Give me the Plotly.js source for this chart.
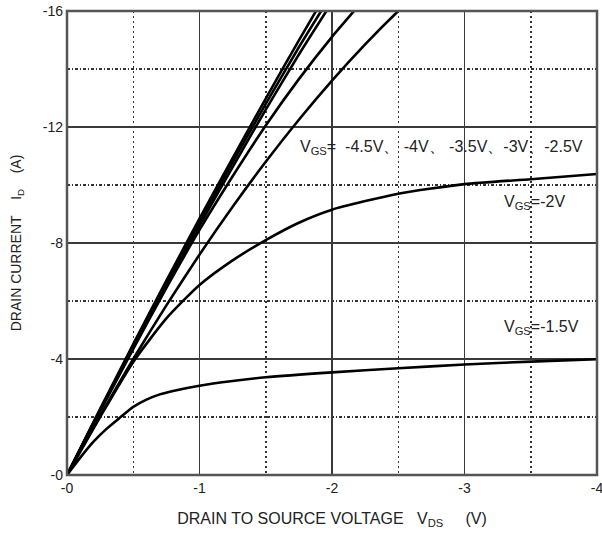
<!DOCTYPE html>
<html>
<head>
<meta charset="utf-8">
<script src="https://cdn.plot.ly/plotly-3.0.1.min.js"></script>
<style>html,body{margin:0;padding:0;background:#fff;overflow:hidden;}#chart{width:602px;height:533px;}</style>
</head>
<body>
<div id="chart"></div>
<script>
// Drain-source voltage (V) and drain current (A) for each gate-source voltage
const vdsMain = [0, -0.25, -0.5, -0.75, -1.0, -1.25, -1.5, -1.75, -2.0];
const idVgs45 = [0, -2.28, -4.51, -6.7, -8.84, -10.93, -12.98, -14.99, -16.94];
const idVgs40 = [0, -2.25, -4.45, -6.6, -8.72, -10.78, -12.8, -14.75, -16.6];
const idVgs35 = [0, -2.22, -4.38, -6.5, -8.6, -10.62, -12.6, -14.5, -16.3];

const vdsVgs30 = [0, -0.25, -0.5, -0.75, -1.0, -1.25, -1.5, -1.75, -2.0, -2.25];
const idVgs30  = [0, -2.2, -4.35, -6.45, -8.45, -10.3, -12.05, -13.65, -15.11, -16.44];

const vdsVgs25 = [0, -0.25, -0.5, -0.75, -1.0, -1.25, -1.5, -1.75, -2.0, -2.25, -2.5, -2.75];
const idVgs25  = [0, -2.05, -4.0, -5.85, -7.6, -9.25, -10.8, -12.25, -13.6, -14.85, -16.0, -17.05];

const vdsVgs20 = [0, -0.25, -0.5, -0.75, -1.0, -1.25, -1.5, -1.75, -2.0, -2.5, -3.0, -3.5, -4.0];
const idVgs20  = [0, -2.0, -3.9, -5.4, -6.55, -7.4, -8.1, -8.7, -9.15, -9.7, -10.03, -10.2, -10.38];

const vdsVgs15 = [0, -0.1, -0.2, -0.3, -0.4, -0.5, -0.6, -0.7, -0.8, -1.0, -1.25, -1.5, -2.0, -2.5, -3.0, -3.5, -4.0];
const idVgs15  = [0, -0.6, -1.15, -1.6, -1.98, -2.35, -2.6, -2.78, -2.9, -3.08, -3.24, -3.37, -3.54, -3.68, -3.81, -3.91, -3.99];

const xTickVals = [0, -1, -2, -3, -4];
const xTickText = ["-0", "-1", "-2", "-3", "-4"];
const yTickVals = [0, -4, -8, -12, -16];
const yTickText = ["-0", "-4", "-8", "-12", "-16"];
const xMinorVals = [-0.5, -1.5, -2.5, -3.5];
const yMinorVals = [-2, -6, -10, -14];

const labelMulti = "V<sub>GS</sub>= \u00A0-4.5V\u3001 -4V\u3001 -3.5V\u3001-3V\u3001-2.5V";
const labelVgs20 = "V<sub>GS</sub>=-2V";
const labelVgs15 = "V<sub>GS</sub>=-1.5V";

const lineStyle = {color: '#000', width: 2.6, shape: 'spline', smoothing: 0.6};
function tr(x, y) { return {x: x, y: y, mode: 'lines', line: lineStyle, hoverinfo: 'skip', showlegend: false}; }

const data = [
  tr(vdsMain, idVgs45), tr(vdsMain, idVgs40), tr(vdsMain, idVgs35),
  tr(vdsVgs30, idVgs30), tr(vdsVgs25, idVgs25),
  tr(vdsVgs20, idVgs20), tr(vdsVgs15, idVgs15)
];

const fontFam = '"Liberation Sans", Arial, sans-serif';
const layout = {
  width: 602, height: 533,
  margin: {l: 67, r: 5, t: 11, b: 58},
  paper_bgcolor: '#fff', plot_bgcolor: '#fff',
  font: {family: fontFam, color: '#222', size: 14},
  xaxis: {
    range: [0, -4], tickmode: 'array', tickvals: xTickVals, ticktext: xTickText,
    showgrid: true, gridcolor: '#3a3a3a', gridwidth: 1.4, zeroline: false,
    showline: false,
    ticks: '', ticklabelstandoff: 3, ticklabeloverflow: 'allow', tickfont: {size: 14, color: '#222'},
    minor: {tickvals: xMinorVals, showgrid: true, gridcolor: '#333', gridwidth: 1.5, griddash: '2px,3px', ticks: ''},
    title: {text: 'DRAIN TO SOURCE VOLTAGE\u00A0\u00A0 V<sub>DS</sub>\u00A0\u00A0\u00A0\u00A0 (V)', font: {size: 16, color: '#222'}, standoff: 17},
    automargin: false, fixedrange: true
  },
  yaxis: {
    range: [0, -16], tickmode: 'array', tickvals: yTickVals, ticktext: yTickText,
    showgrid: true, gridcolor: '#3a3a3a', gridwidth: 1.4, zeroline: false,
    showline: false,
    ticks: '', ticklabelstandoff: 3, ticklabeloverflow: 'allow', tickfont: {size: 14, color: '#222'},
    minor: {tickvals: yMinorVals, showgrid: true, gridcolor: '#333', gridwidth: 1.5, griddash: '3px,2px,1px,2px', ticks: ''},
    title: {text: 'DRAIN CURRENT\u00A0\u00A0\u00A0 I<sub>D</sub>\u00A0\u00A0\u00A0 (A)', font: {size: 14, color: '#222'}, standoff: 17},
    automargin: false, fixedrange: true
  },
  shapes: [
    {type: 'rect', xref: 'paper', yref: 'paper', x0: 0, x1: 1, y0: 0, y1: 1, line: {color: '#555', width: 2.5}, layer: 'above'}
  ],
  annotations: [
    {x: -1.74, y: -11.3, xref: 'x', yref: 'y', text: labelMulti, showarrow: false, xanchor: 'left', yanchor: 'middle', font: {size: 16, color: '#222'}},
    {x: -3.28, y: -9.4, xref: 'x', yref: 'y', text: labelVgs20, showarrow: false, xanchor: 'left', yanchor: 'middle', font: {size: 16, color: '#222'}},
    {x: -3.28, y: -5.1, xref: 'x', yref: 'y', text: labelVgs15, showarrow: false, xanchor: 'left', yanchor: 'middle', font: {size: 16, color: '#222'}}
  ]
};

Plotly.newPlot('chart', data, layout, {staticPlot: true, displayModeBar: false});
</script>
</body>
</html>
